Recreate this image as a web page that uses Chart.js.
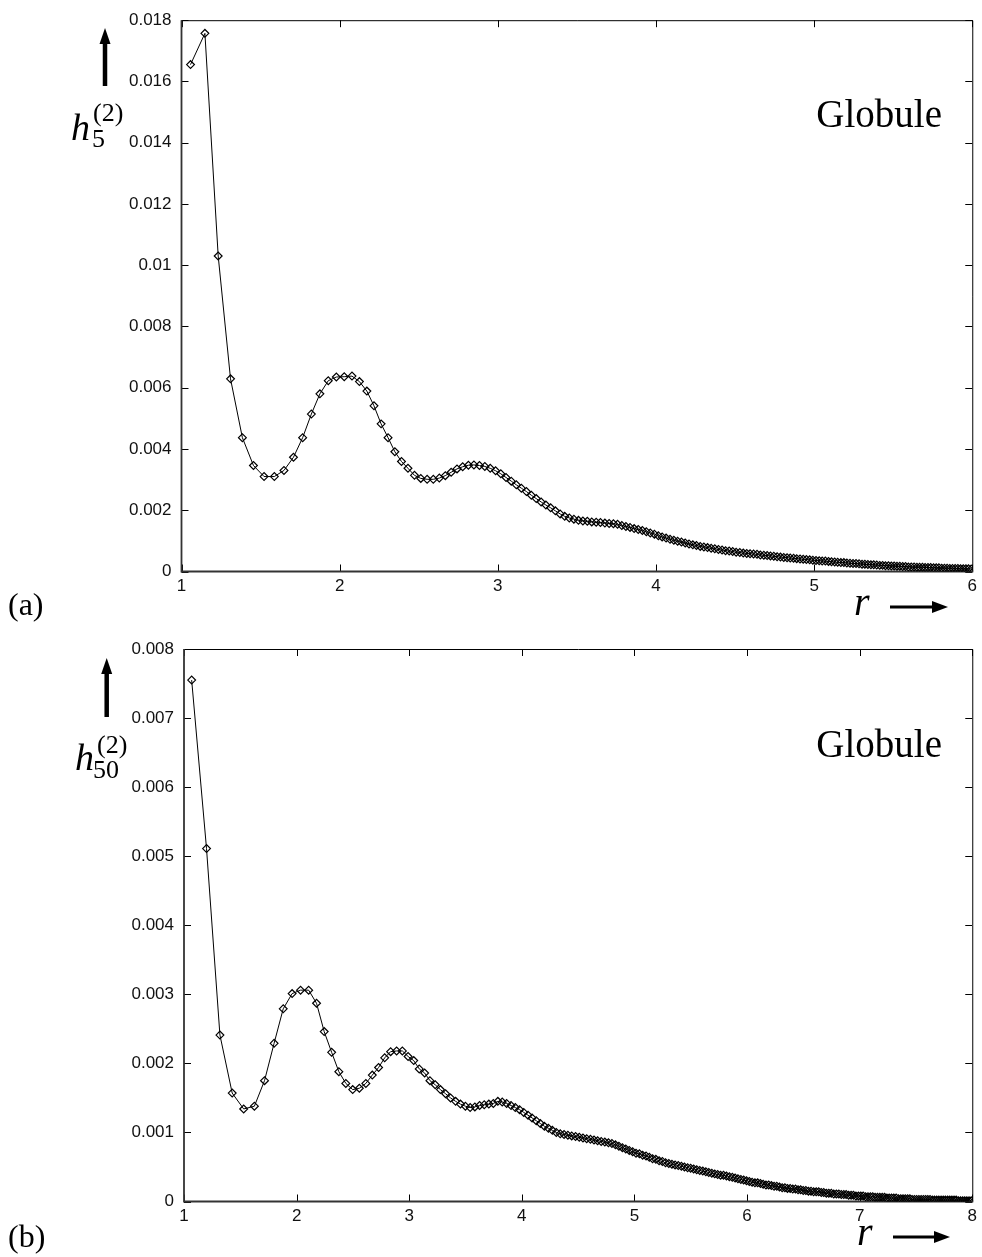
<!DOCTYPE html>
<html>
<head>
<meta charset="utf-8">
<script src="https://cdn.jsdelivr.net/npm/chart.js@4.4.1/dist/chart.umd.min.js"></script>
<style>
  body { margin: 0; background: #fff; }
  canvas { position: absolute; left: 0; }
  #chartA { top: 0; }
  #chartB { top: 625px; }
</style>
</head>
<body>
<canvas id="chartA" width="982" height="625"></canvas>
<canvas id="chartB" width="982" height="632"></canvas>
<script>
// (a) h_5^(2)(r), globule
const r5 = [
  1.057,1.148,1.232,1.310,1.385,1.455,1.522,1.587,1.648,1.708,
  1.766,1.821,1.875,1.928,1.979,2.029,2.078,2.125,2.172,2.217,
  2.262,2.306,2.349,2.391,2.432,2.473,2.513,2.553,2.592,2.630,
  2.668,2.705,2.742,2.778,2.814,2.849,2.884,2.918,2.952,2.986,
  3.019,3.052,3.085,3.117,3.149,3.181,3.212,3.243,3.274,3.304,
  3.334,3.364,3.394,3.423,3.452,3.481,3.510,3.538,3.566,3.594,
  3.622,3.649,3.677,3.704,3.731,3.757,3.784,3.810,3.836,3.862,
  3.888,3.914,3.939,3.964,3.990,4.015,4.039,4.064,4.089,4.113,
  4.137,4.161,4.185,4.209,4.233,4.256,4.280,4.303,4.326,4.349,
  4.372,4.395,4.418,4.440,4.463,4.485,4.507,4.530,4.552,4.574,
  4.595,4.617,4.639,4.660,4.682,4.703,4.724,4.745,4.766,4.787,
  4.808,4.829,4.849,4.870,4.890,4.911,4.931,4.951,4.972,4.992,
  5.012,5.032,5.051,5.071,5.091,5.110,5.130,5.149,5.169,5.188,
  5.207,5.227,5.246,5.265,5.284,5.303,5.321,5.340,5.359,5.377,
  5.396,5.415,5.433,5.451,5.470,5.488,5.506,5.524,5.542,5.560,
  5.578,5.596,5.614,5.632,5.650,5.667,5.685,5.702,5.720,5.737,
  5.755,5.772,5.789,5.807,5.824,5.841,5.858,5.875,5.892,5.909,
  5.926,5.943,5.960,5.976,5.993
];
const h5 = [
  0.01655,0.01757,0.01030,0.00629,0.00437,0.00346,0.00310,0.00310,0.00330,0.00373,
  0.00437,0.00514,0.00580,0.00623,0.00635,0.00636,0.00638,0.00620,0.00589,0.00541,
  0.00482,0.00437,0.00391,0.00359,0.00337,0.00314,0.00304,0.00301,0.00301,0.00305,
  0.00313,0.00324,0.00335,0.00342,0.00347,0.00348,0.00346,0.00343,0.00337,0.00329,
  0.00319,0.00307,0.00295,0.00283,0.00272,0.00261,0.00249,0.00238,0.00227,0.00217,
  0.00208,0.00198,0.00188,0.00180,0.00175,0.00171,0.00167,0.00165,0.00164,0.00162,
  0.00161,0.00160,0.00158,0.00157,0.00156,0.00154,0.00150,0.00147,0.00144,0.00140,
  0.00137,0.00134,0.00130,0.00126,0.00122,0.00117,0.00113,0.00109,0.00105,0.00102,
  0.00099,0.00096,0.00093,0.00090,0.00087,0.00085,0.00082,0.00080,0.00078,0.00076,
  0.00074,0.00072,0.00070,0.00068,0.00067,0.00065,0.00063,0.00062,0.00060,0.00059,
  0.00058,0.00057,0.00056,0.00054,0.00053,0.00052,0.00051,0.00050,0.00048,0.00047,
  0.00046,0.00045,0.00044,0.00043,0.00042,0.00041,0.00040,0.00039,0.00038,0.00037,
  0.00036,0.00035,0.00034,0.00034,0.00033,0.00032,0.00031,0.00030,0.00029,0.00029,
  0.00028,0.00027,0.00026,0.00026,0.00025,0.00024,0.00024,0.00023,0.00022,0.00022,
  0.00021,0.00020,0.00020,0.00019,0.00019,0.00018,0.00018,0.00017,0.00017,0.00016,
  0.00016,0.00015,0.00015,0.00015,0.00014,0.00014,0.00014,0.00013,0.00013,0.00013,
  0.00012,0.00012,0.00012,0.00011,0.00011,0.00011,0.00010,0.00010,0.00010,0.00010,
  0.00009,0.00009,0.00009,0.00009,0.00008
];
const xTicksA = [1, 2, 3, 4, 5, 6];
const yTicksA = [0, 0.002, 0.004, 0.006, 0.008, 0.01, 0.012, 0.014, 0.016, 0.018];

// (b) h_50^(2)(r), globule
const r50 = [
  1.068,1.200,1.319,1.428,1.530,1.625,1.715,1.800,1.881,1.960,
  2.035,2.107,2.177,2.245,2.311,2.375,2.437,2.498,2.557,2.615,
  2.672,2.728,2.782,2.835,2.888,2.939,2.990,3.040,3.089,3.137,
  3.184,3.231,3.277,3.323,3.367,3.412,3.455,3.499,3.541,3.583,
  3.625,3.666,3.707,3.747,3.787,3.826,3.865,3.904,3.942,3.980,
  4.017,4.055,4.091,4.128,4.164,4.200,4.236,4.271,4.306,4.341,
  4.375,4.409,4.443,4.477,4.510,4.543,4.576,4.609,4.641,4.673,
  4.705,4.737,4.769,4.800,4.831,4.862,4.893,4.923,4.954,4.984,
  5.014,5.044,5.073,5.103,5.132,5.161,5.190,5.219,5.248,5.276,
  5.305,5.333,5.361,5.389,5.417,5.444,5.472,5.499,5.526,5.553,
  5.580,5.607,5.634,5.660,5.687,5.713,5.739,5.765,5.791,5.817,
  5.843,5.869,5.894,5.919,5.945,5.970,5.995,6.020,6.045,6.070,
  6.094,6.119,6.143,6.168,6.192,6.216,6.240,6.264,6.288,6.312,
  6.336,6.359,6.383,6.406,6.430,6.453,6.476,6.499,6.522,6.545,
  6.568,6.591,6.614,6.636,6.659,6.681,6.704,6.726,6.748,6.770,
  6.793,6.815,6.837,6.859,6.880,6.902,6.924,6.945,6.967,6.989,
  7.010,7.031,7.053,7.074,7.095,7.116,7.137,7.158,7.179,7.200,
  7.221,7.242,7.262,7.283,7.303,7.324,7.344,7.365,7.385,7.405,
  7.426,7.446,7.466,7.486,7.506,7.526,7.546,7.566,7.586,7.605,
  7.625,7.645,7.664,7.684,7.703,7.723,7.742,7.761,7.781,7.800,
  7.819,7.838,7.857,7.877,7.896,7.915,7.933,7.952,7.971,7.990
];
const h50 = [
  0.00755,0.00511,0.00241,0.00157,0.00134,0.00138,0.00175,0.00229,0.00279,0.00301,
  0.00306,0.00306,0.00287,0.00246,0.00216,0.00188,0.00171,0.00162,0.00164,0.00171,
  0.00183,0.00194,0.00208,0.00217,0.00218,0.00218,0.00210,0.00204,0.00192,0.00186,
  0.00175,0.00169,0.00162,0.00156,0.00150,0.00145,0.00141,0.00138,0.00136,0.00137,
  0.00139,0.00140,0.00141,0.00142,0.00145,0.00144,0.00142,0.00139,0.00136,0.00133,
  0.00129,0.00125,0.00121,0.00117,0.00113,0.00109,0.00106,0.00103,0.00100,0.00098,
  0.00097,0.00096,0.00095,0.00094,0.00093,0.00092,0.00091,0.00090,0.00089,0.00088,
  0.00087,0.00086,0.00085,0.00084,0.00082,0.00080,0.00078,0.00076,0.00074,0.00072,
  0.00070,0.00069,0.00067,0.00066,0.00064,0.00062,0.00061,0.00059,0.00058,0.00056,
  0.00055,0.00054,0.00053,0.00052,0.00051,0.00050,0.00049,0.00048,0.00047,0.00046,
  0.00045,0.00044,0.00043,0.00042,0.00041,0.00040,0.00039,0.00038,0.00038,0.00037,
  0.00036,0.00035,0.00034,0.00033,0.00032,0.00031,0.00030,0.00029,0.00028,0.00027,
  0.00027,0.00026,0.00025,0.00024,0.00024,0.00023,0.00022,0.00022,0.00021,0.00020,
  0.00020,0.00019,0.00019,0.00018,0.00018,0.00017,0.00017,0.00016,0.00016,0.00015,
  0.00015,0.00014,0.00014,0.00014,0.00013,0.00013,0.00012,0.00012,0.00012,0.00011,
  0.00011,0.00011,0.00010,0.00010,0.00010,0.00009,0.00009,0.00009,0.00008,0.00008,
  0.00008,0.00008,0.00007,0.00007,0.00007,0.00007,0.00006,0.00006,0.00006,0.00006,
  0.00006,0.00005,0.00005,0.00005,0.00005,0.00005,0.00004,0.00004,0.00004,0.00004,
  0.00004,0.00004,0.00003,0.00003,0.00003,0.00003,0.00003,0.00003,0.00003,0.00003,
  0.00003,0.00002,0.00002,0.00002,0.00002,0.00002,0.00002,0.00002,0.00002,0.00002,
  0.00002,0.00002,0.00002,0.00001,0.00001,0.00001,0.00001,0.00001,0.00001,0.00001
];
const xTicksB = [1, 2, 3, 4, 5, 6, 7, 8];
const yTicksB = [0, 0.001, 0.002, 0.003, 0.004, 0.005, 0.006, 0.007, 0.008];

const tickFont = { family: '"Liberation Sans", Arial, sans-serif', size: 17 };
const serif = '"Liberation Serif", "Times New Roman", serif';

// gnuplot-like frame: box on all four sides, ticks pointing inwards, mirrored
const framePlugin = {
  id: 'frame',
  beforeDatasetsDraw(chart) {
    const { ctx, chartArea: a, scales: { x, y } } = chart;
    const len = 7;
    ctx.save();
    ctx.strokeStyle = '#000';
    ctx.lineWidth = 1;
    ctx.beginPath();
    x.ticks.forEach(t => {
      const px = Math.round(x.getPixelForValue(t.value)) + 0.5;
      ctx.moveTo(px, a.bottom); ctx.lineTo(px, a.bottom - len);
      ctx.moveTo(px, a.top); ctx.lineTo(px, a.top + len);
    });
    y.ticks.forEach(t => {
      const py = Math.round(y.getPixelForValue(t.value)) + 0.5;
      ctx.moveTo(a.left, py); ctx.lineTo(a.left + len, py);
      ctx.moveTo(a.right, py); ctx.lineTo(a.right - len, py);
    });
    ctx.stroke();
    ctx.beginPath();
    ctx.moveTo(a.left, a.top + 0.5); ctx.lineTo(a.right + 0.5, a.top + 0.5);
    ctx.lineTo(a.right + 0.5, a.bottom);
    ctx.stroke();
    ctx.strokeStyle = '#333';
    ctx.lineWidth = 1.8;
    ctx.beginPath();
    ctx.moveTo(a.left, a.top); ctx.lineTo(a.left, a.bottom); ctx.lineTo(a.right + 1, a.bottom);
    ctx.stroke();
    ctx.restore();
  }
};

function arrow(ctx, x0, y0, x1, y1, w, head, half) {
  const ang = Math.atan2(y1 - y0, x1 - x0);
  const bx = x1 - head * Math.cos(ang), by = y1 - head * Math.sin(ang);
  ctx.lineWidth = w;
  ctx.beginPath(); ctx.moveTo(x0, y0); ctx.lineTo(bx, by); ctx.stroke();
  ctx.beginPath();
  ctx.moveTo(x1, y1);
  ctx.lineTo(bx - half * Math.sin(ang), by + half * Math.cos(ang));
  ctx.lineTo(bx + half * Math.sin(ang), by - half * Math.cos(ang));
  ctx.closePath(); ctx.fill();
}

function makeChart(id, rs, hs, xTicks, yTicks, box, notes) {
  const pts = rs.map((r, i) => ({ x: r, y: hs[i] }));
  return new Chart(document.getElementById(id), {
    type: 'scatter',
    data: {
      datasets: [{
        data: pts,
        showLine: true,
        borderColor: '#000',
        borderWidth: 1,
        tension: 0,
        pointStyle: 'rectRot',
        pointRadius: 3.9,
        pointBorderWidth: 1.2,
        pointBorderColor: '#000',
        pointBackgroundColor: 'rgba(0,0,0,0)'
      }]
    },
    options: {
      responsive: false,
      animation: false,
      events: [],
      layout: { padding: { left: 0, top: box.top, right: box.right, bottom: 0 } },
      plugins: { legend: { display: false }, tooltip: { enabled: false } },
      scales: {
        x: {
          type: 'linear',
          min: xTicks[0],
          max: xTicks[xTicks.length - 1],
          grid: { display: false, drawTicks: false },
          border: { display: false },
          afterBuildTicks: s => { s.ticks = xTicks.map(v => ({ value: v })); },
          afterFit: s => { s.height = box.xh; },
          ticks: { padding: box.xpad, font: tickFont, color: '#111', maxRotation: 0, autoSkip: false }
        },
        y: {
          type: 'linear',
          min: yTicks[0],
          max: yTicks[yTicks.length - 1],
          grid: { display: false, drawTicks: false },
          border: { display: false },
          afterBuildTicks: s => { s.ticks = yTicks.map(v => ({ value: v })); },
          afterFit: s => { s.width = box.left; },
          ticks: { padding: 10, font: tickFont, color: '#111', autoSkip: false, callback: v => String(v) }
        }
      }
    },
    plugins: [framePlugin, { id: 'notes', afterDraw: c => notes(c.ctx) }]
  });
}

makeChart('chartA', r5, h5, xTicksA, yTicksA,
  { top: 18, right: 7, left: 181.5, xh: 53.5, xpad: 5 },
  ctx => {
    ctx.save();
    ctx.fillStyle = '#000'; ctx.strokeStyle = '#000';
    ctx.textBaseline = 'alphabetic';
    ctx.font = 'italic 38px ' + serif; ctx.fillText('h', 71, 140);
    ctx.font = '26px ' + serif; ctx.fillText('5', 92, 147); ctx.fillText('(2)', 93, 121);
    arrow(ctx, 105, 86, 105, 28, 4.5, 16, 5.5);
    ctx.font = '39px ' + serif; ctx.textAlign = 'right'; ctx.fillText('Globule', 942, 127);
    ctx.textAlign = 'left';
    ctx.font = '32px ' + serif; ctx.fillText('(a)', 8, 615);
    ctx.font = 'italic 40px ' + serif; ctx.fillText('r', 854, 615);
    arrow(ctx, 890, 607, 948, 607, 3, 16, 6);
    ctx.restore();
  });

makeChart('chartB', r50, h50, xTicksB, yTicksB,
  { top: 24, right: 6, left: 184, xh: 55.5, xpad: 5 },
  ctx => {
    ctx.save();
    ctx.fillStyle = '#000'; ctx.strokeStyle = '#000';
    ctx.textBaseline = 'alphabetic';
    ctx.font = 'italic 38px ' + serif; ctx.fillText('h', 75, 145);
    ctx.font = '26px ' + serif; ctx.fillText('50', 93, 153); ctx.fillText('(2)', 97, 128);
    arrow(ctx, 106.7, 92, 106.7, 33, 4.5, 16, 5.5);
    ctx.font = '39px ' + serif; ctx.textAlign = 'right'; ctx.fillText('Globule', 942, 132);
    ctx.textAlign = 'left';
    ctx.font = '32px ' + serif; ctx.fillText('(b)', 8, 622);
    ctx.font = 'italic 40px ' + serif; ctx.fillText('r', 857, 620);
    arrow(ctx, 893, 612, 950, 612, 3, 16, 6);
    ctx.restore();
  });
</script>
</body>
</html>
